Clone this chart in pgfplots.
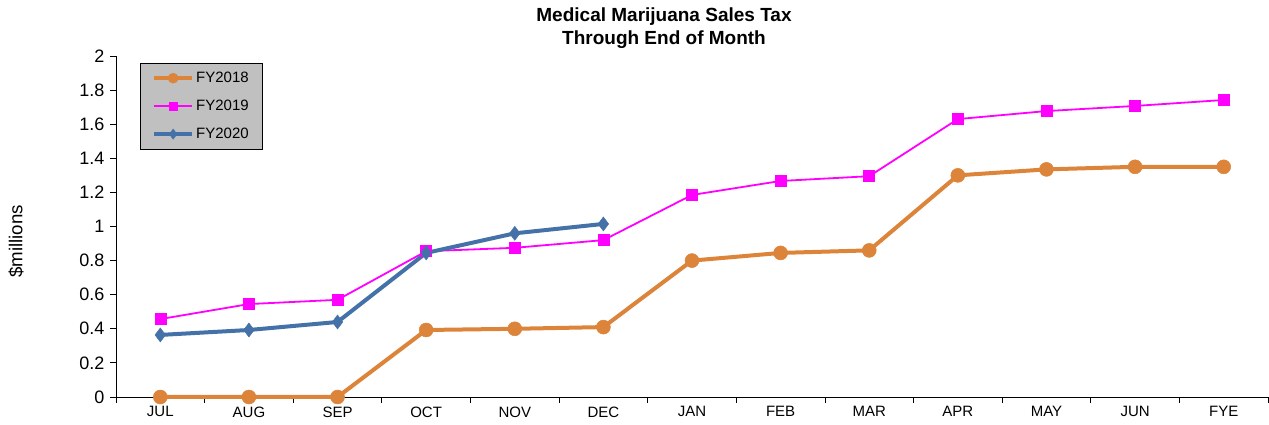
\documentclass[border=0pt]{standalone}
\usepackage{pgfplots}
\pgfplotsset{compat=1.18}
\usepackage{fontspec}
\setmainfont{Liberation Sans}
\definecolor{c18}{RGB}{221,132,59}
\definecolor{c19}{RGB}{255,0,255}
\definecolor{c20}{RGB}{68,114,168}
\begin{document}
\begin{tikzpicture}[x=1pt,y=1pt]
\useasboundingbox (-116,-28) rectangle (1153,397);
\begin{axis}[
  at={(0,0)}, anchor=south west,
  scale only axis, width=1152pt, height=341pt,
  xmin=-0.5, xmax=12.5, ymin=0, ymax=2,
  axis lines*=left,
  axis line style={black, line width=0.8pt},
  xtick={0,...,12},
  xticklabels={JUL,AUG,SEP,OCT,NOV,DEC,JAN,FEB,MAR,APR,MAY,JUN,FYE},
  major x tick style={draw=none},
  minor xtick={-0.5,0.5,...,12.5},
  minor tick length=6pt,
  ytick={0,0.2,...,2.01},
  yticklabels={0,0.2,0.4,0.6,0.8,1,1.2,1.4,1.6,1.8,2},
  major tick length=6pt,
  tick align=outside,
  tick style={black, line width=0.8pt},
  xticklabel style={font=\fontsize{15}{18}\selectfont},
  yticklabel style={font=\fontsize{18}{21}\selectfont, xshift=-2pt},
  /pgf/number format/assume math mode=true,
  ylabel={\$millions},
  ylabel style={font=\fontsize{18.7}{22}\selectfont, at={(axis description cs:-0.0868,0.456)}, anchor=center},
  legend style={at={(axis description cs:0.0208,0.9795)}, anchor=north west,
    fill={rgb,255:red,192;green,192;blue,192}, draw=black,
    font=\fontsize{15}{18}\selectfont, row sep=12pt, inner xsep=12pt, inner ysep=7pt},
  legend image code/.code={%
    \draw[mark repeat=2,mark phase=2,/tikz/every mark/.append style={scale=0.72}] plot coordinates {(0pt,0pt) (19pt,0pt) (38pt,0pt)};},
  legend cell align=left,
  clip=false,
]
\addplot[c18, line width=4pt, mark=*, mark size=7pt, mark options={solid, line width=0.5pt}]
coordinates {(0,0) (1,0) (2,0) (3,0.393) (4,0.40) (5,0.41) (6,0.80) (7,0.845) (8,0.86) (9,1.30) (10,1.335) (11,1.35) (12,1.35)};
\addlegendentry{FY2018}
\addplot[c19, line width=1.8pt, mark=square*, mark size=5.5pt, mark options={solid, line width=0.5pt}]
coordinates {(0,0.457) (1,0.545) (2,0.57) (3,0.855) (4,0.875) (5,0.92) (6,1.185) (7,1.267) (8,1.295) (9,1.63) (10,1.677) (11,1.707) (12,1.742)};
\addlegendentry{FY2019}
\addplot[c20, line width=4pt, mark=diamond*, mark size=7pt, mark options={solid, line width=0.5pt}]
coordinates {(0,0.364) (1,0.393) (2,0.44) (3,0.845) (4,0.96) (5,1.015)};
\addlegendentry{FY2020}
\end{axis}
\node[font=\bfseries\fontsize{19}{23}\selectfont, align=center] at (548,368.5) {Medical Marijuana Sales Tax\\Through End of Month};
\end{tikzpicture}
\end{document}
